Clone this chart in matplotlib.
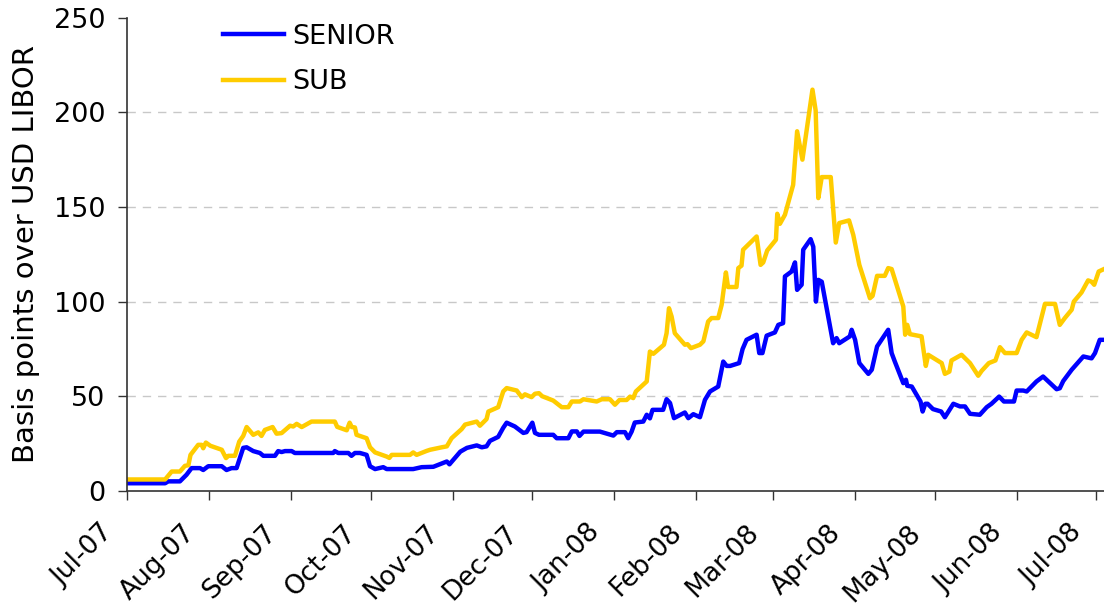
import numpy as np
import pandas as pd
import matplotlib
matplotlib.use("Agg")
import matplotlib.pyplot as plt
import matplotlib.dates as mdates
from matplotlib.transforms import ScaledTranslation

START = "2007-07-01"

# days since 1 Jul 2007
senior_days = [0, 14.4, 15.6, 20, 22.5, 24.4, 27.6, 28.8, 30.7, 35.8, 37.6, 39.5, 41.4, 43.9, 45.2,
               47.7, 50.2, 51.5, 55.9, 57.1, 58.4, 59.7, 62.2, 63.4, 77.9, 78.5, 79.8, 83.6, 84.8,
               86.1, 88, 90.5, 91.8, 93.7, 96.8, 98.1, 108.1, 111.3, 115.7, 119.5, 120.8, 121.8,
               125.9, 128.4, 132.1, 134, 135.8, 137.1, 140.2, 142.1, 143.4, 146.5, 149.7, 150.9,
               153.1, 154.1, 155.6, 161, 162.3, 166.7, 168, 169.9, 170.9, 172.4, 178.6, 183.7, 185,
               188.1, 189.3, 190.6, 191.8, 195, 196.3, 197.5, 198.5, 202.5, 203.8, 205.1, 206.6,
               210.7, 212, 213.9, 216.4, 218.3, 220.2, 223.3, 224.6, 225.2, 226.5, 227.8, 231.2,
               232.5, 234, 237.8, 238.8, 240, 241.6, 244.7, 246, 247.8, 248.5, 251, 252.3, 253.1,
               254.8, 255.4, 258.2, 259.2, 260.2, 261.1, 262.4, 266.7, 268, 269, 273, 273.7, 275,
               276.6, 280, 281.3, 283.3, 287.5, 288.8, 290, 293.2, 294.2, 294.7, 296.4, 299.7,
               300.5, 301.5, 302.4, 304.4, 307.5, 308.9, 312.1, 314.6, 316.5, 318.4, 322.1, 324.7,
               326.5, 329.4, 331.2, 335, 336, 338.5, 339.8, 343.5, 346, 351.1, 352.3, 353.6, 356.8,
               361.2, 364.3, 365.6, 367.4, 369]
senior = [4, 4, 5, 5, 8.5, 12, 12, 11, 13, 13, 11, 12, 12, 22.7, 23,
          21, 20, 18.5, 18.5, 21, 20.5, 21, 21, 20, 20, 21, 20, 20, 18.5,
          20, 20, 19, 13, 11.5, 12.5, 11.5, 11.5, 12.5, 12.7, 14.8, 15.5, 14,
          20.7, 22.7, 24, 23, 23.5, 26.4, 28.5, 33.3, 36, 34, 30.6, 31,
          36, 30.6, 29.6, 29.6, 27.8, 27.8, 31.4, 31.4, 29, 31.3, 31.3, 29.2, 31,
          31, 27.8, 31.3, 36.1, 36.6, 40.2, 38.3, 42.8, 42.8, 48.4, 46.4, 38.4,
          41.4, 38.4, 40.5, 38.9, 48.1, 52.5, 55.1, 64, 68.3, 66, 66, 67.5,
          74.9, 79.8, 82.5, 72.8, 72.8, 82, 83.7, 87.7, 88.6, 113.3, 115.9, 120.7, 106.2,
          108.9, 127.4, 133, 129, 100, 111.5, 110.5, 78, 80.7, 78, 81.6, 85.1, 79.8,
          67.5, 61.8, 64, 76.3, 85.1, 72.8, 68.3, 56.9, 58.7, 55.5, 55.1, 47.2,
          41.9, 46, 46, 43.2, 41.9, 38.9, 46, 44.6, 44.6, 40.7, 40.2, 44.2,
          46, 49.8, 47.2, 47.2, 53, 53, 52.5, 57.8, 60.4, 53.7, 54.2, 58, 64,
          71, 70, 72.8, 79.8, 79.8]

sub_days = [0, 14.4, 16.9, 20, 21.9, 23.2, 24, 26.9, 28.2, 28.8, 29.8, 31.5, 35.8, 37.4, 38.3,
            40.8, 42.4, 43.9, 45.2, 47.7, 49.6, 50.8, 52.1, 55, 56.5, 58.4, 61.6, 62.8, 64.1,
            66, 69.7, 78.5, 79.4, 83, 84.1, 84.9, 86.1, 86.7, 90.5, 91.8, 93.7, 98.1, 99.1, 100,
            106.9, 108.1, 109.4, 113.2, 114.5, 118.9, 120.8, 122.6, 126.4, 127.7, 132.1, 133.3,
            135.8, 136.5, 140.2, 142.1, 143.4, 147.2, 149.1, 150.3, 152.8, 154.1, 155.6, 156.8,
            161, 164.2, 166.7, 168, 171.1, 172.4, 177.4, 179.3, 182.4, 184.3, 186, 188.7, 190,
            191.2, 192.2, 196.3, 197.5, 198.8, 202.8, 203.8, 204.7, 205.7, 206.9, 210.7, 211.7,
            213, 216.4, 217.7, 219.5, 220.8, 223.3, 224.6, 226.2, 227, 230.2, 230.9, 232.1,
            232.7, 237.8, 239.3, 240.3, 241.8, 245.1, 245.6, 246.6, 248.5, 250.4, 251.6, 253.1,
            255.1, 258.9, 260.1, 261.1, 262.4, 265.8, 267.7, 269, 272.7, 274.3, 276.6, 280.6,
            281.6, 283.3, 286.2, 287.5, 288.8, 293.2, 293.9, 294.7, 295.7, 300.1, 301.7, 302.6,
            307.7, 308.9, 310.6, 311.4, 315.2, 318.4, 321.5, 322.8, 325.5, 328, 329.7, 331.6,
            336, 337.9, 339.8, 343.5, 346.7, 350.5, 352.3, 354.2, 356.8, 357.6, 360.5, 363,
            364.3, 365.3, 367, 369]
sub = [6, 6, 10.2, 10.2, 13.2, 13.5, 19, 24.3, 24.3, 22.5, 25.5, 23.8, 21.7, 17.3, 18.5,
       18.5, 26, 29, 33.7, 29.6, 30.9, 29, 32.2, 33.7, 30.2, 30.5, 34.4, 34, 35.4,
       33.7, 36.6, 36.6, 33.8, 32, 36, 33.7, 33.5, 29.6, 27.8, 23, 20.3, 18.1, 17.4, 19,
       19, 20.3, 19, 21.1, 21.7, 23, 23.5, 27.8, 32.6, 35, 36.6, 34.4,
       37.9, 41.9, 44.2, 52.5, 54.3, 53, 49.5, 51, 49.5, 51.3, 51.6, 50,
       47.7, 44.2, 44.2, 47.2, 47.2, 48.4, 47.2, 48.4, 48.4, 45.5, 48, 48, 49.8,
       49, 52.5, 57.8, 73.6, 72.4, 77.2, 83.3, 96.5, 92.1, 83.3, 77.2, 77.5,
       75.4, 77.2, 79, 89.5, 91.3, 91.3, 98.3, 115.4, 107.7, 107.7, 117.7, 119,
       127.4, 134.4, 119.4, 120.7, 127, 132.7, 146.4, 141.1, 145.9, 155.5, 161.7, 190,
       175, 212, 201, 154.7, 165.8, 165.8, 131.2, 141.5, 142.9, 135.3, 119.4, 101.8,
       103, 113.6, 113.6, 117.7, 117.2, 97.4, 82.5, 87.7, 82.8, 81.6, 66, 71.9,
       67.5, 61.8, 63, 68.9, 71.9, 67.5, 60.8, 63.4, 67.5, 68.9, 75.9, 72.8,
       72.8, 79.8, 83.7, 81.2, 98.8, 98.8, 87.7, 91.3, 95.7, 100, 104.8, 111.2,
       110.5, 108.9, 115.9, 117.2]

y_ticks = [0, 50, 100, 150, 200, 250]

senior_dates = pd.Timestamp(START) + pd.to_timedelta(senior_days, unit="D")
sub_dates = pd.Timestamp(START) + pd.to_timedelta(sub_days, unit="D")

FS = 19.5

fig = plt.figure(figsize=(11.04, 6.12), dpi=100)
ax = fig.add_axes([0.115, 0.198, 0.885, 0.773])

ax.plot(senior_dates, senior, color="#0000FF", lw=3.2, solid_joinstyle="round", label="SENIOR")
ax.plot(sub_dates, sub, color="#FFCC00", lw=3.2, solid_joinstyle="round", label="SUB")

ax.set_ylim(0, 250)
ax.set_yticks(y_ticks)
ax.set_xlim(pd.Timestamp(START), pd.Timestamp(START) + pd.Timedelta(days=369))
ax.xaxis.set_major_locator(mdates.MonthLocator())
ax.xaxis.set_major_formatter(mdates.DateFormatter("%b-%y"))

ax.yaxis.grid(True, color="#c8c8c8", linestyle=(0, (6, 5)), lw=1)
gl = ax.yaxis.get_gridlines()
gl[0].set_visible(False)
gl[-1].set_visible(False)

for s in ["top", "right"]:
    ax.spines[s].set_visible(False)
for s in ["left", "bottom"]:
    ax.spines[s].set_color("#333333")
    ax.spines[s].set_linewidth(1.2)

ax.tick_params(axis="both", direction="out", length=6.5, width=1, color="#333333", labelsize=FS)
ax.tick_params(axis="x", labelsize=19)
ax.tick_params(axis="y", pad=9)
ax.tick_params(axis="x", pad=21)
off = ScaledTranslation(-13 / 72, 0, fig.dpi_scale_trans)
for lab in ax.get_xticklabels():
    lab.set_rotation(45)
    lab.set_ha("right")
    lab.set_va("center")
    lab.set_rotation_mode("anchor")
    lab.set_transform(lab.get_transform() + off)

ax.set_ylabel("Basis points over USD LIBOR", fontsize=21, labelpad=10)

ax.legend(loc="upper left", bbox_to_anchor=(0.098, 0.987), frameon=False, fontsize=FS,
          handlelength=2.25, handletextpad=0.3, labelspacing=0.72,
          borderpad=0, borderaxespad=0)

fig.savefig("out.png", dpi=100)
